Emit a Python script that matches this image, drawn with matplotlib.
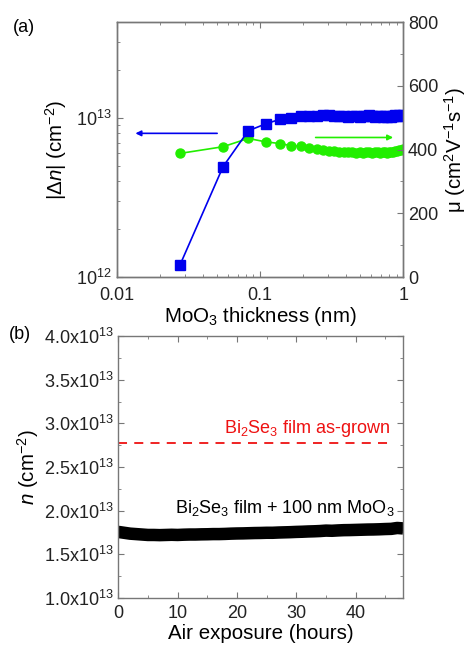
import matplotlib
matplotlib.use("Agg")
import matplotlib.pyplot as plt
from matplotlib.ticker import FixedLocator, FuncFormatter, MultipleLocator, LogLocator, NullFormatter

plt.rcParams['font.family'] = ['Liberation Sans', 'DejaVu Sans']
plt.rcParams['mathtext.fontset'] = 'custom'
plt.rcParams['mathtext.rm'] = 'Liberation Sans'
plt.rcParams['mathtext.it'] = 'Liberation Sans:italic'
plt.rcParams['mathtext.default'] = 'regular'

# ---- panel (a) data ----
thickness = [0.0276, 0.0552, 0.0828, 0.1104, 0.138, 0.1656, 0.1932, 0.2208, 0.2484,
             0.276, 0.3036, 0.3312, 0.3588, 0.3864, 0.414, 0.4416, 0.4692, 0.4968,
             0.5244, 0.552, 0.5796, 0.6072, 0.6348, 0.6624, 0.69, 0.7176, 0.7452,
             0.7728, 0.8004, 0.828, 0.8556, 0.8832, 0.9108, 0.9384, 0.966, 0.9936]
delta_n = [1.19e12, 4.94e12, 8.3e12, 9.2e12, 9.8e12, 1.0e13, 1.03e13, 1.03e13, 1.03e13,
           1.04e13, 1.04e13, 1.03e13, 1.03e13, 1.03e13, 1.02e13, 1.03e13, 1.03e13, 1.02e13,
           1.03e13, 1.03e13, 1.04e13, 1.03e13, 1.02e13, 1.03e13, 1.03e13, 1.02e13, 1.03e13,
           1.01e13, 1.03e13, 1.02e13, 1.03e13, 1.04e13, 1.03e13, 1.05e13, 1.03e13, 1.04e13]
mobility = [388, 409, 435, 424, 419, 412, 411, 404, 401, 399, 397, 396, 394, 393, 391,
            392, 390, 391, 390, 391, 392, 390, 391, 392, 390, 393, 392, 388, 391, 393,
            394, 395, 397, 399, 400, 402]

# ---- panel (b) data ----
hours = list(range(0, 49))
n_capped = [1.755, 1.745, 1.735, 1.73, 1.725, 1.72, 1.72, 1.718, 1.72, 1.722, 1.72,
            1.723, 1.725, 1.725, 1.727, 1.728, 1.73, 1.73, 1.732, 1.735, 1.737, 1.738,
            1.74, 1.742, 1.743, 1.745, 1.745, 1.748, 1.75, 1.752, 1.755, 1.757, 1.76,
            1.762, 1.765, 1.77, 1.768, 1.772, 1.775, 1.776, 1.778, 1.78, 1.782, 1.783,
            1.785, 1.788, 1.79, 1.8, 1.795]
n_asgrown = 2.77e13
asgrown_range = [0, 46]

fig = plt.figure(figsize=(4.71, 6.49), dpi=100)
ax1 = fig.add_axes([0.248, 0.573, 0.608, 0.393])
ax2 = ax1.twinx()
ax3 = fig.add_axes([0.251, 0.079, 0.605, 0.403])

spine_col = '#777777'
fs = 13
fl = 14.8

# panel (a)
ax1.set_xscale('log')
ax1.set_yscale('log')
ax1.plot(thickness, delta_n, '-s', color='#0000ee', ms=6.5, lw=1.2)
ax1.set_xlim(0.01, 1)
ax1.set_ylim(1e12, 4e13)
ax2.plot(thickness, mobility, '-o', color='#22ee00', ms=6.5, lw=1.2, zorder=1)
ax2.set_ylim(0, 800)
ax1.set_zorder(ax2.get_zorder() + 1)
ax1.patch.set_visible(False)

ax1.yaxis.set_major_locator(FixedLocator([1e12, 1e13]))
ax1.yaxis.set_minor_locator(LogLocator(base=10, subs=range(2, 10)))
ax1.yaxis.set_minor_formatter(NullFormatter())
ax1.xaxis.set_major_locator(FixedLocator([0.01, 0.1, 1]))
ax1.xaxis.set_major_formatter(FuncFormatter(lambda v, p: {0.01: '0.01', 0.1: '0.1', 1: '1'}.get(round(v, 3), '')))
ax1.xaxis.set_minor_locator(LogLocator(base=10, subs=range(2, 10)))
ax1.xaxis.set_minor_formatter(NullFormatter())
ax2.yaxis.set_major_locator(MultipleLocator(200))
ax2.yaxis.set_minor_locator(MultipleLocator(100))

ax1.set_xlabel('MoO$_3$ thickness (nm)', fontsize=fl, labelpad=1)
ax1.set_ylabel('|$\\mathit{\\Delta n}$| (cm$^{-2}$)', fontsize=fl, labelpad=5)
ax2.set_ylabel('μ (cm$^{2}$V$^{-1}$s$^{-1}$)', fontsize=fl, labelpad=3)

ax1.annotate('', xy=(0.0129, 8.0e12), xytext=(0.0525, 8.0e12),
             arrowprops=dict(arrowstyle='-|>', color='#0000ee', lw=1.2, mutation_scale=8))
ax2.annotate('', xy=(0.89, 438), xytext=(0.234, 438),
             arrowprops=dict(arrowstyle='-|>', color='#22ee00', lw=1.2, mutation_scale=8))

# panel (b)
ax3.plot(hours, [v * 1e13 for v in n_capped], color='black', lw=9, solid_capstyle='butt')
ax3.plot(asgrown_range, [n_asgrown, n_asgrown], color='#ee1111', lw=1.3, ls=(0, (5, 4)))
ax3.set_xlim(0, 48)
ax3.set_ylim(1e13, 4e13)
ax3.yaxis.set_major_locator(MultipleLocator(0.5e13))
ax3.yaxis.set_minor_locator(MultipleLocator(0.25e13))
ax3.yaxis.set_major_formatter(FuncFormatter(lambda v, p: '%.1fx10$^{13}$' % (v / 1e13)))
ax3.xaxis.set_major_locator(MultipleLocator(10))
ax3.xaxis.set_minor_locator(MultipleLocator(5))
ax3.set_xlabel('Air exposure (hours)', fontsize=fl, labelpad=2)
ax3.set_ylabel('$\\mathit{n}$ (cm$^{-2}$)', fontsize=fl, labelpad=2)
ax3.text(45.8, 2.89e13, 'Bi$_2$Se$_3$ film as-grown', color='#ee1111', fontsize=fs, ha='right', va='baseline')
ax3.text(46.6, 1.97e13, 'Bi$_2$Se$_3$ film + 100 nm MoO$_3$', color='black', fontsize=fs, ha='right', va='baseline')

for ax in (ax1, ax2, ax3):
    for s in ax.spines.values():
        s.set_color(spine_col)
        s.set_linewidth(1.0)
    ax.tick_params(which='both', direction='in', colors=spine_col, labelcolor='#222222', labelsize=fs)
    ax.tick_params(which='major', length=4)
    ax.tick_params(which='minor', length=2.5)
ax1.tick_params(which='both', top=True, right=False)
ax1.tick_params(axis='x', pad=7)
ax2.tick_params(which='both', right=True, left=False)
ax3.tick_params(which='both', top=True, right=True)
ax3.tick_params(axis='x', pad=5)

fig.text(0.028, 0.958, '(a)', fontsize=fs, va='center')
fig.text(0.018, 0.485, '(b)', fontsize=fs, va='center')

fig.savefig('out.png', dpi=100)
